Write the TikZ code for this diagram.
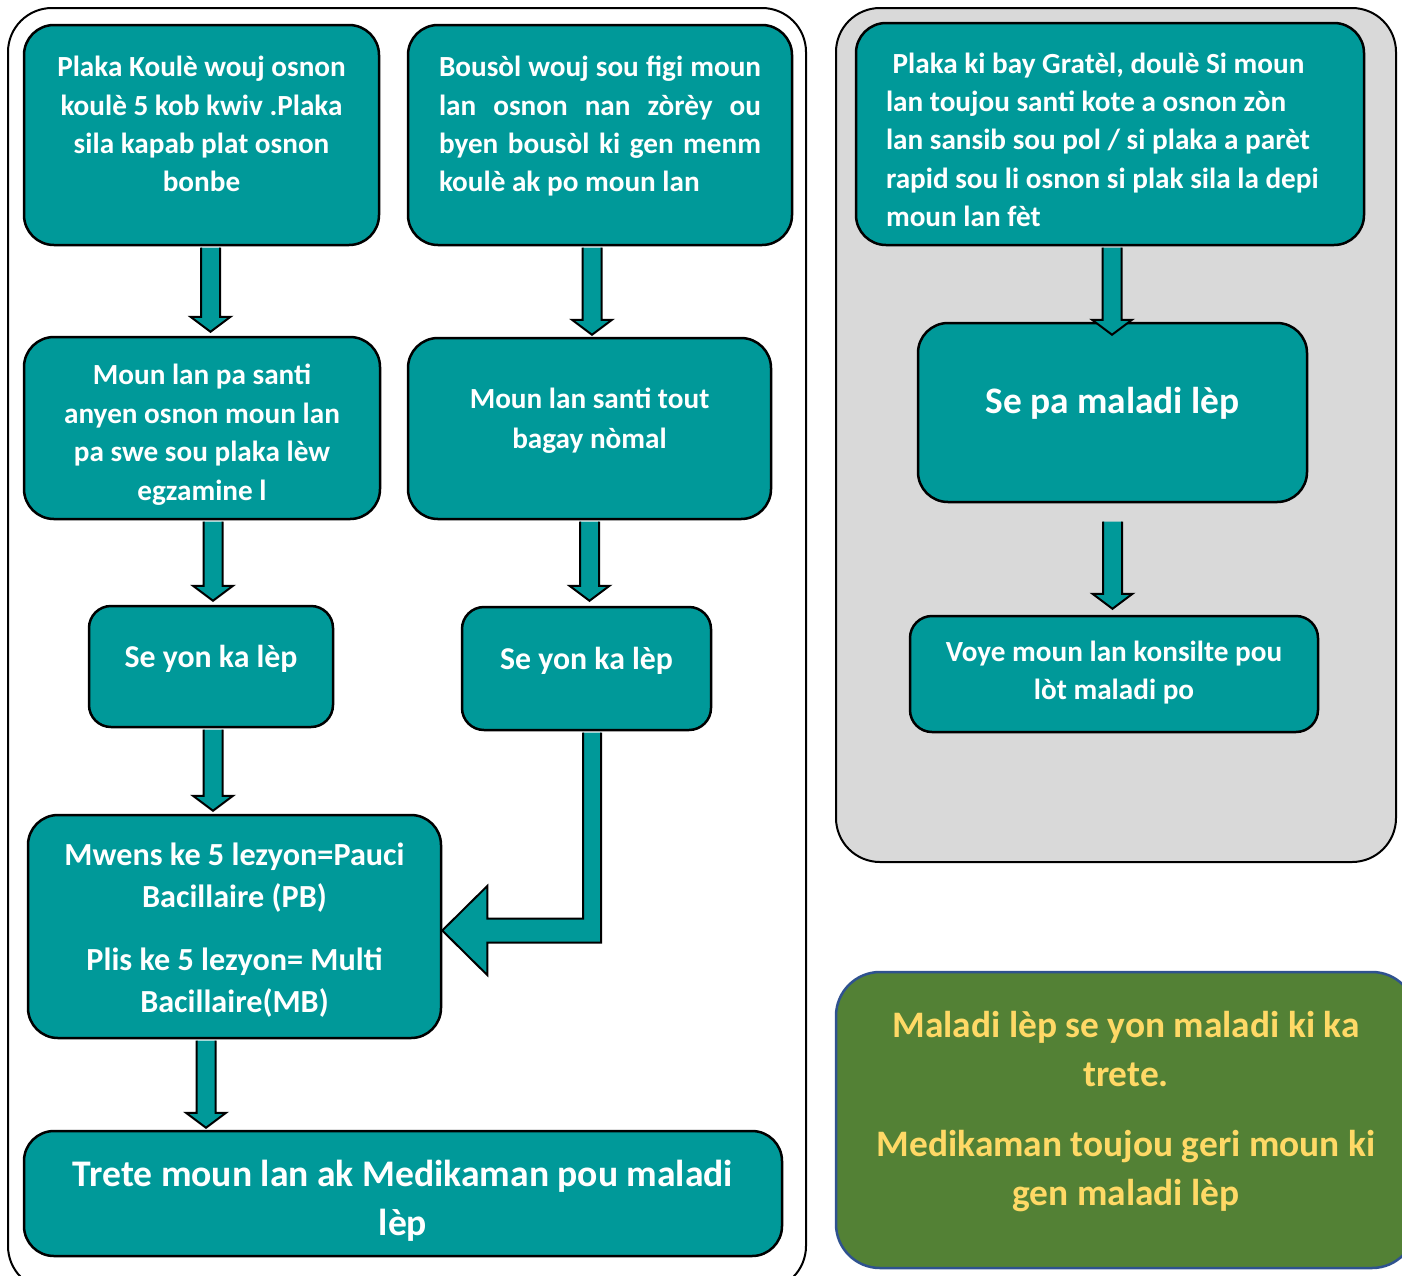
\documentclass[tikz,border=0pt]{standalone}
\usepackage{fontspec}
\setmainfont{Carlito}
\usetikzlibrary{calc}

\definecolor{tealbox}{HTML}{009999}
\definecolor{framegray}{HTML}{D9D9D9}
\definecolor{notegreen}{HTML}{538135}
\definecolor{noteblue}{HTML}{2F528F}
\definecolor{notegold}{HTML}{FFD966}

\newcommand{\lift}[1]{\rule[-#1]{0pt}{#1}}
\newcommand{\drop}[1]{\rule{0pt}{#1}}
\newcommand{\blockdown}[2]{%
  \filldraw[blockarr] let \p1 = #1, \p2 = #2 in
    (\x1-4.75pt,\y1-0.7pt) -- (\x1-4.75pt,\y2+7.5pt) -- (\x1-10pt,\y2+7.5pt) -- (\x1,\y2)
    -- (\x1+10pt,\y2+7.5pt) -- (\x1+4.75pt,\y2+7.5pt) -- (\x1+4.75pt,\y1-0.7pt);}

\begin{document}
\begin{tikzpicture}[x = 0.5pt, y = -0.5pt,
                    box/.style = {draw = black, line width = 1.25pt, fill = tealbox, text = white,
                                  rounded corners = 15pt, align = center, inner sep = 0pt,
                                  font = \bfseries\fontsize{14.6}{19.2}\selectfont},
                    frame/.style = {draw = black, line width = 1pt, rounded corners = 22pt},
                    blockarr/.style = {draw = black, line width = 1pt, fill = tealbox, line join = miter}]
      \useasboundingbox (0, 0) rectangle (1402, 1275);

      \draw [frame] (8, 8) rectangle (806, 1290);
      \draw [frame, fill = framegray] (836, 8) rectangle (1396, 862);

      % left column
      \node [box, minimum width = 177.5pt, minimum height = 110pt] (a1) at (201.5, 135)
            {Plaka Koulè wouj osnon\\koulè 5 kob kwiv .Plaka\\sila kapab plat osnon\\bonbe\lift{11pt}};
      \node [box, minimum width = 178pt, minimum height = 91pt] (a2) at (202, 428)
            {\drop{17pt}Moun lan pa santi\\anyen osnon moun lan\\pa swe sou plaka lèw\\egzamine l};
      \node [box, minimum width = 122pt, minimum height = 60.5pt, rounded corners = 11pt,
             font = \bfseries\fontsize{15.9}{20}\selectfont] (a3) at (211, 666.5)
            {Se yon ka lèp\lift{10pt}};
      \node [box, minimum width = 206.5pt, minimum height = 111.5pt,
             font = \bfseries\fontsize{16.1}{20.7}\selectfont] (a4) at (234.5, 926.5)
            {\drop{15pt}Mwens ke 5 lezyon=Pauci\\Bacillaire (PB)\\[11pt]Plis ke 5 lezyon= Multi\\Bacillaire(MB)};
      \node [box, minimum width = 379pt, minimum height = 62.5pt,
             font = \bfseries\fontsize{18.8}{24.5}\selectfont] (a5) at (403, 1193.5)
            {\drop{20pt}Trete moun lan ak Medikaman pou maladi\\lèp};

      % middle column
      \node [box, minimum width = 192pt, minimum height = 110pt, align = left] (b1) at (600, 135)
            {\makebox[161pt][s]{Bousòl wouj sou figi moun}\\
             \makebox[161pt][s]{lan osnon nan zòrèy ou}\\
             \makebox[161pt][s]{byen bousòl ki gen menm}\\
             \makebox[161pt][l]{koulè ak po moun lan}\lift{11pt}};
      \node [box, minimum width = 181.5pt, minimum height = 90.5pt,
             font = \bfseries\fontsize{14.6}{20}\selectfont] (b2) at (589.5, 428.5)
            {Moun lan santi tout\\bagay nòmal\lift{10pt}};
      \node [box, minimum width = 124.5pt, minimum height = 61.5pt, rounded corners = 11pt,
             font = \bfseries\fontsize{15.9}{20}\selectfont] (b3) at (586.5, 668.5)
            {Se yon ka lèp\lift{10pt}};

      % right column
      \node [box, minimum width = 254pt, minimum height = 111pt, align = flush left, text width = 224pt] (c1) at (1110, 134)
            {\drop{16pt}\ Plaka ki bay Gratèl, doulè Si moun\\lan toujou santi kote a osnon zòn\\lan sansib sou pol / si plaka a parèt\\rapid sou li osnon si plak sila la depi\\moun lan fèt};
      \node [box, minimum width = 194.5pt, minimum height = 89.5pt,
             font = \bfseries\fontsize{18.7}{24}\selectfont] (c2) at (1112.5, 412.5)
            {Se pa maladi lèp\lift{12pt}};
      \node [box, minimum width = 204pt, minimum height = 58pt, rounded corners = 11pt] (c3) at (1114, 674)
            {Voye moun lan konsilte pou\\lòt maladi po\lift{4pt}};

      \node [draw = noteblue, line width = 1.25pt, fill = notegreen, text = notegold, rounded corners = 22pt,
             align = center, minimum width = 290pt, minimum height = 148pt,
             font = \bfseries\fontsize{18.7}{24.5}\selectfont] (note) at (1126, 1120)
            {Maladi lèp se yon maladi ki ka\\trete.\\[10.5pt]Medikaman toujou geri moun ki\\gen maladi lèp\lift{12pt}};

      % arrows
      \blockdown{([xshift = 4.5pt]a1.south)}{([yshift = 2pt]a2.north)}
      \blockdown{([xshift = 5.5pt]a2.south)}{([yshift = 2pt]a3.north)}
      \blockdown{([xshift = 1pt]a3.south)}{([yshift = 1.5pt]a4.north)}
      \blockdown{([xshift = -14.25pt]a4.south)}{([yshift = 1pt]a5.north)}
      \blockdown{([xshift = -4pt]b1.south)}{([yshift = 1pt]b2.north)}
      \blockdown{(b2.south)}{([yshift = 2.5pt]b3.north)}
      \blockdown{([xshift = 1pt]c1.south)}{([yshift = -6.5pt]c2.north)}
      \blockdown{([yshift = -8.5pt]c2.south)}{([yshift = 3pt]c3.north)}

      \filldraw [blockarr] let \p1 = ([xshift = 2.75pt]b3.south), \p2 = (a4.east) in
            (\x1-4.5pt,\y1-0.7pt) -- (\x1-4.5pt,\y2+4pt) -- (\x2+22.5pt,\y2+4pt) -- (\x2+22.5pt,\y2+20.25pt)
            -- (\x2,\y2-2pt) -- (\x2+22.5pt,\y2-24.25pt) -- (\x2+22.5pt,\y2-8pt) -- (\x1+4.5pt,\y2-8pt)
            -- (\x1+4.5pt,\y1-0.7pt);

\end{tikzpicture}
\end{document}
